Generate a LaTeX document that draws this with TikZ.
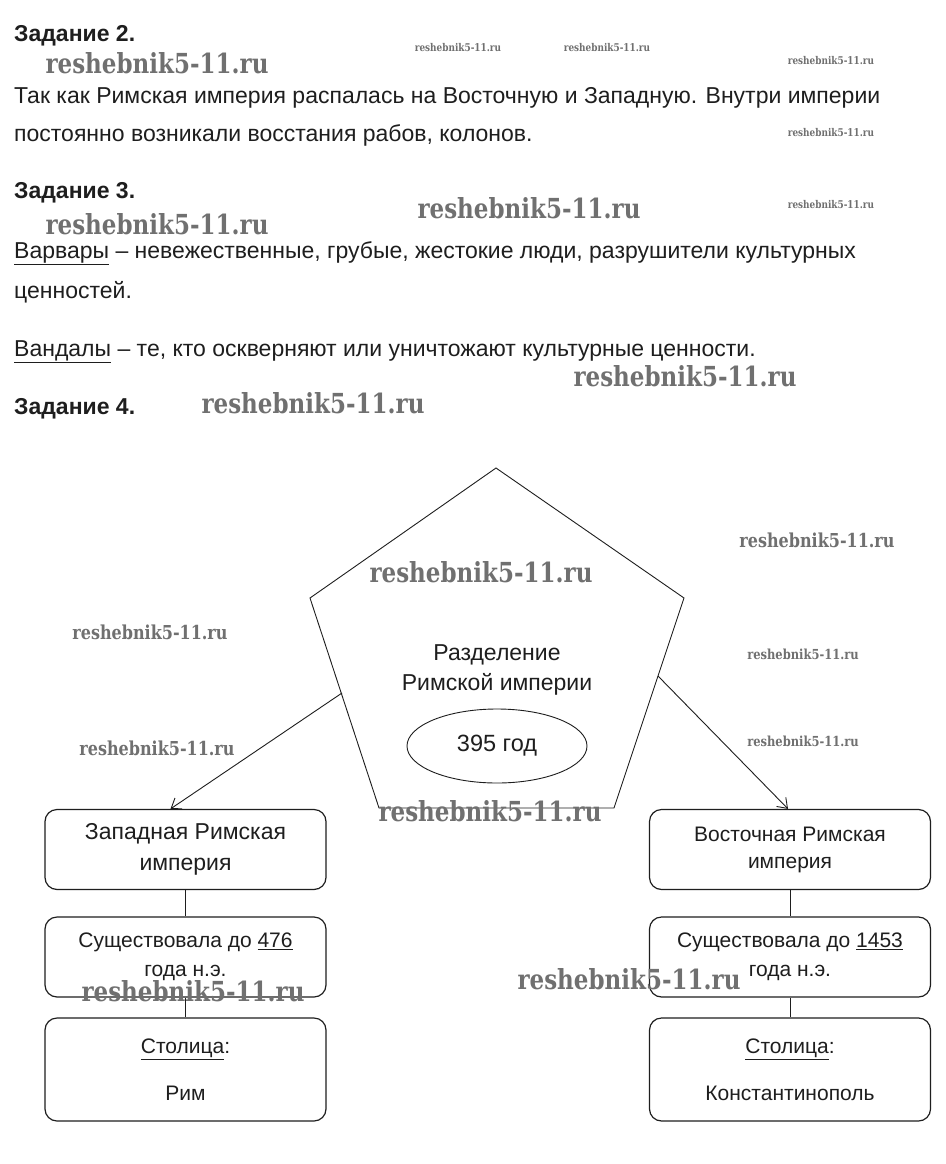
\documentclass[tikz,border=0pt]{standalone}
\usepackage{fontspec}
\setmainfont{Liberation Sans}
\newfontfamily\stampfont{DejaVu Serif}
\usepackage{tikz}
\usetikzlibrary{arrows.meta,positioning,calc,shapes.geometric}
\definecolor{inkGray}{RGB}{30,30,30}
\definecolor{stampGray}{RGB}{112,112,112}

\begin{document}
\begin{tikzpicture}[x=1pt, y=-1pt,
    task/.style={anchor=base west, inner sep=0pt, text=inkGray,
      font=\fontsize{23}{27}\selectfont\bfseries},
    para/.style={anchor=base west, inner sep=0pt, text=inkGray,
      font=\fontsize{23}{27}\selectfont},
    stage/.style={draw=inkGray, line width=1.2pt, rounded corners=12pt,
      minimum width=281pt, minimum height=80pt, align=center, text=inkGray,
      font=\fontsize{21}{29}\selectfont},
    stamp/.style={anchor=base, inner sep=0pt, text=stampGray,
      font=\stampfont\bfseries\fontsize{#1}{#1}\selectfont},
    >={Straight Barb[length=9pt,width=13pt]}
  ]
  \fill[white] (0,0) rectangle (945,1164);
  \useasboundingbox (0,0) rectangle (945,1164);

  % Task 2
  \node[task] (t2) at (14,42) {Задание 2.};
  \node[para] (t2a) at (14,103) {Так как Римская империя распалась на Восточную и Западную. Внутри империи};
  \node[para] (t2b) at (14,141) {постоянно возникали восстания рабов, колонов.};

  % Task 3
  \node[task] (t3) at (14,198) {Задание 3.};
  \node[para] (t3a) at (14,258) {\underline{Варвары} – невежественные, грубые, жестокие люди, разрушители культурных};
  \node[para] (t3b) at (14,298) {ценностей.};
  \node[para] (t3c) at (14,356) {\underline{Вандалы} – те, кто оскверняют или уничтожают культурные ценности.};

  % Task 4
  \node[task] (t4) at (14,414) {Задание 4.};

  % Pentagon
  \coordinate (pTop) at (496,468);
  \coordinate (pRight) at (684,598);
  \coordinate (pBR) at (614,808);
  \coordinate (pBL) at (379,808);
  \coordinate (pLeft) at (310,598);
  \draw[inkGray, line width=0.9pt] (pTop) -- (pRight) -- (pBR) -- (pBL) -- (pLeft) -- cycle;
  \node[text=inkGray, align=center, font=\fontsize{23}{30}\selectfont] (split) at (497,670) {Разделение\\Римской империи};
  \node[draw=inkGray, ellipse, line width=0.9pt, minimum width=180pt, minimum height=74pt,
    text=inkGray, font=\fontsize{23.5}{27}\selectfont] (year) at (497,746) {395 год};

  % Western empire
  \node[stage, font=\fontsize{23}{31}\selectfont] (west) at (185.5,849.5) {Западная Римская\\империя};
  \node[stage] (westEnd) at (185.5,957) {Существовала до \underline{476}\\года н.э.};
  \node[stage, minimum height=103pt] (westCap) at (185.5,1069.5) {\underline{Столица}:\\[18pt]Рим};

  % Eastern empire
  \node[stage, font=\fontsize{21}{27}\selectfont] (east) at (790,849.5) {Восточная Римская\\империя};
  \node[stage] (eastEnd) at (790,957) {Существовала до \underline{1453}\\года н.э.};
  \node[stage, minimum height=103pt] (eastCap) at (790,1069.5) {\underline{Столица}:\\[18pt]Константинополь};

  % Links
  \draw[inkGray, line width=0.8pt] (west) -- (westEnd);
  \draw[inkGray, line width=0.8pt] (westEnd) -- (westCap);
  \draw[inkGray, line width=0.8pt] (east) -- (eastEnd);
  \draw[inkGray, line width=0.8pt] (eastEnd) -- (eastCap);

  % Split arrows
  \coordinate (leftFoot) at (342,693);
  \coordinate (rightFoot) at (658,676);
  \draw[->, inkGray, line width=0.9pt] (leftFoot) -- ([xshift=-15pt]west.north);
  \draw[->, inkGray, line width=0.9pt] (rightFoot) -- ([xshift=-2pt]east.north);

  % Watermarks
  \foreach \x/\y/\s [count=\i] in {157/74/23, 157/234/23, 529/218/23, 685/386/23,
      313/413/23, 481/582/23, 490/821/23, 193/1001/23, 629/989/23,
      458/52/8.9, 607/52/8.9, 831/64/8.9, 831/136/8.9, 831/208/8.9,
      817/547/16, 150/639/16, 803/659/11.5, 157/755/16, 803/746/11.5}
    \node[stamp=\s] (wm\i) at (\x,\y) {\scalebox{1}[1.2]{reshebnik5-11.ru}};
\end{tikzpicture}
\end{document}
